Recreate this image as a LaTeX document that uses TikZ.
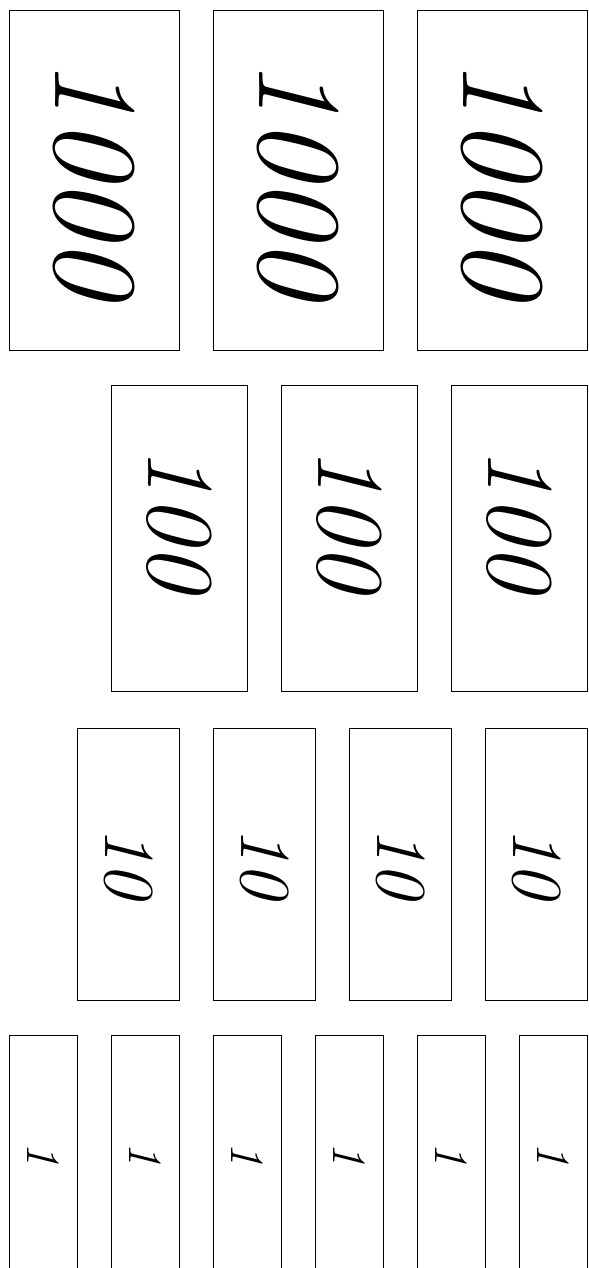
\documentclass[tikz,border=0pt]{standalone}
\usepackage{fontspec}
\usepackage{graphicx}
\usepackage{tikz}
\usetikzlibrary{positioning}
\newcommand{\pvu}{0.5cm}
\tikzset{blockbox/.style={draw, line width=0.4pt, inner sep=0pt, anchor=north west}}
\newcommand{\pvblock}[8]{%
 \node[blockbox, minimum width=#4*\pvu, minimum height=#5*\pvu] (#3) at (#1*\pvu,-#2*\pvu) {\raisebox{#8}[\height][\depth]{\fontsize{#6}{#6}\selectfont\rotatebox{-90}{\textit{#7}}}};}

\begin{document}
\begin{tikzpicture}
\useasboundingbox (0,0) rectangle (17.32*\pvu,-37.29*\pvu);
% thousands
\pvblock{0.26}{0.29}{th1}{5}{10}{50}{1000}{0pt}
\pvblock{6.26}{0.29}{th2}{5}{10}{50}{1000}{0pt}
\pvblock{12.26}{0.29}{th3}{5}{10}{50}{1000}{0pt}
% hundreds
\pvblock{3.26}{11.32}{hu1}{4}{9}{40}{100}{0.25cm}
\pvblock{8.26}{11.32}{hu2}{4}{9}{40}{100}{0.25cm}
\pvblock{13.26}{11.32}{hu3}{4}{9}{40}{100}{0.25cm}
% tens
\pvblock{2.26}{21.41}{te1}{3}{8}{30}{10}{0pt}
\pvblock{6.26}{21.41}{te2}{3}{8}{30}{10}{0pt}
\pvblock{10.26}{21.41}{te3}{3}{8}{30}{10}{0pt}
\pvblock{14.26}{21.41}{te4}{3}{8}{30}{10}{0pt}
% ones
\pvblock{0.26}{30.44}{on1}{2}{7}{20}{1}{0pt}
\pvblock{3.26}{30.44}{on2}{2}{7}{20}{1}{0pt}
\pvblock{6.26}{30.44}{on3}{2}{7}{20}{1}{0pt}
\pvblock{9.26}{30.44}{on4}{2}{7}{20}{1}{0pt}
\pvblock{12.26}{30.44}{on5}{2}{7}{20}{1}{0pt}
\pvblock{15.26}{30.44}{on6}{2}{7}{20}{1}{0pt}
\end{tikzpicture}
\end{document}
